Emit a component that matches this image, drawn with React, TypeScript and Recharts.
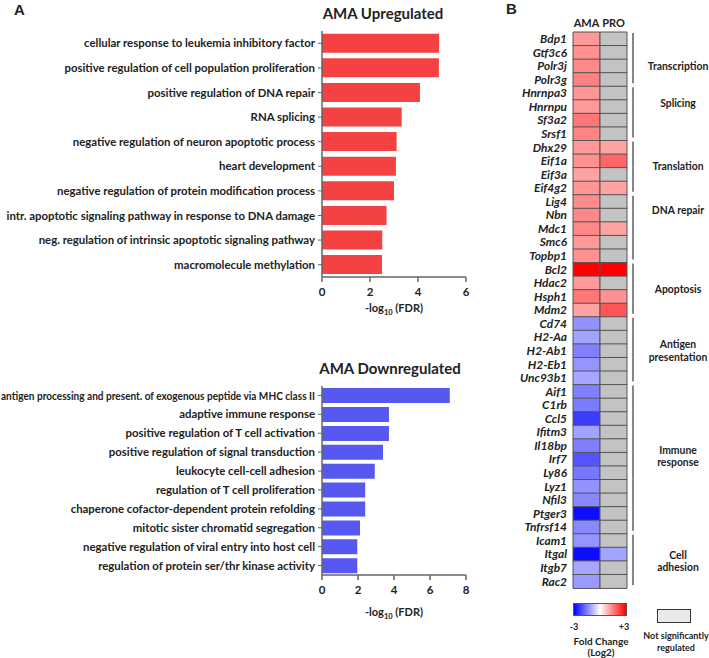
import React from 'react';
import { BarChart, Bar, XAxis, YAxis, Cell } from 'recharts';

// ---------- Panel A data ----------
const upTerms = [
  'cellular response to leukemia inhibitory factor',
  'positive regulation of cell population proliferation',
  'positive regulation of DNA repair',
  'RNA splicing',
  'negative regulation of neuron apoptotic process',
  'heart development',
  'negative regulation of protein modification process',
  'intr. apoptotic signaling pathway in response to DNA damage',
  'neg. regulation of intrinsic apoptotic signaling pathway',
  'macromolecule methylation',
];
const upValues = [4.88, 4.87, 4.08, 3.32, 3.11, 3.08, 3.0, 2.69, 2.51, 2.5];
const upTicks = [0, 2, 4, 6];

const downTerms = [
  'antigen processing and present. of exogenous peptide via MHC class II',
  'adaptive immune response',
  'positive regulation of T cell activation',
  'positive regulation of signal transduction',
  'leukocyte cell-cell adhesion',
  'regulation of T cell proliferation',
  'chaperone cofactor-dependent protein refolding',
  'mitotic sister chromatid segregation',
  'negative regulation of viral entry into host cell',
  'regulation of protein ser/thr kinase activity',
];
const downValues = [7.1, 3.72, 3.72, 3.39, 2.93, 2.4, 2.4, 2.11, 1.96, 1.96];
const downTicks = [0, 2, 4, 6, 8];

// ---------- Panel B data ----------
const columns = ['AMA', 'PRO'];
const genes = [
  'Bdp1', 'Gtf3c6', 'Polr3j', 'Polr3g',
  'Hnrnpa3', 'Hnrnpu', 'Sf3a2', 'Srsf1',
  'Dhx29', 'Eif1a', 'Eif3a', 'Eif4g2',
  'Lig4', 'Nbn', 'Mdc1', 'Smc6', 'Topbp1',
  'Bcl2', 'Hdac2', 'Hsph1', 'Mdm2',
  'Cd74', 'H2-Aa', 'H2-Ab1', 'H2-Eb1', 'Unc93b1',
  'Aif1', 'C1rb', 'Ccl5', 'Ifitm3', 'Il18bp', 'Irf7', 'Ly86', 'Lyz1', 'Nfil3', 'Ptger3', 'Tnfrsf14',
  'Icam1', 'Itgal', 'Itgb7', 'Rac2',
];
const amaFC = [
  1.2, 1.3, 1.4, 1.5,
  1.25, 1.2, 1.6, 1.45,
  1.2, 1.3, 1.1, 1.25,
  1.35, 1.4, 1.4, 1.2, 1.3,
  3.0, 1.2, 1.6, 1.1,
  -1.3, -1.1, -1.5, -1.25, -1.05,
  -1.5, -1.55, -2.3, -1.1, -1.5, -2.0, -1.6, -1.3, -1.4, -2.85, -1.4,
  -1.25, -2.85, -1.05, -1.2,
];
const proFC: (number | null)[] = [
  null, null, null, null,
  null, null, null, null,
  1.1, 1.8, null, 1.1,
  null, null, 1.1, null, null,
  3.0, null, 1.3, 2.0,
  null, null, null, null, null,
  null, null, null, null, null, null, null, null, null, null, null,
  null, -1.1, null, null,
];
const groups = [
  { lines: ['Transcription'], first: 'Bdp1', last: 'Polr3g', labelRow: 2.5 },
  { lines: ['Splicing'], first: 'Hnrnpa3', last: 'Srsf1', labelRow: 1.25 },
  { lines: ['Translation'], first: 'Dhx29', last: 'Eif4g2', labelRow: 1.9 },
  { lines: ['DNA repair'], first: 'Lig4', last: 'Topbp1', labelRow: 1.15 },
  { lines: ['Apoptosis'], first: 'Bcl2', last: 'Mdm2', labelRow: 2.0 },
  { lines: ['Antigen', 'presentation'], first: 'Cd74', last: 'Unc93b1', labelRow: 2.5 },
  { lines: ['Immune', 'response'], first: 'Aif1', last: 'Tnfrsf14', labelRow: 5.3 },
  { lines: ['Cell', 'adhesion'], first: 'Icam1', last: 'Rac2', labelRow: 2.05 },
];
const legendMin = '-3';
const legendMax = '+3';
const FC_LIMIT = 3;

const upData = upTerms.map((t, i) => ({ term: t, value: upValues[i] }));
const downData = downTerms.map((t, i) => ({ term: t, value: downValues[i] }));
const heatData = genes.map((g) => ({ gene: g, ama: 1, pro: 1 }));

const FONT = 'Lato, "Open Sans", sans-serif';
const TEXT = '#222';
const AXIS = '#666';
const NS_GRAY = '#c3c3c3';

function fcColor(v: number | null): string {
  if (v === null) return NS_GRAY;
  const t = Math.min(1, Math.abs(v) / FC_LIMIT);
  const c = Math.round(255 * (1 - t));
  return v >= 0 ? `rgb(255,${c},${c})` : `rgb(${c},${c},255)`;
}

const TermTick = (props: any) => {
  const { x, y, payload } = props;
  const long = String(payload.value).length > 60;
  return (
    <text
      x={x}
      y={y}
      dy="0.36em"
      textAnchor="end"
      fontSize={11.4}
      fontWeight={700}
      fill={TEXT}
      fontFamily={FONT}
      {...(long ? { textLength: x - 1, lengthAdjust: 'spacingAndGlyphs' } : {})}
    >
      {payload.value}
    </text>
  );
};

const NumTick = (props: any) => {
  const { x, y, payload } = props;
  return (
    <text x={x} y={y} dy="0.71em" textAnchor="middle" fontSize={11.5} fontWeight={700} fill={TEXT} fontFamily={FONT}>
      {payload.value}
    </text>
  );
};

const makeFdrLabel = (dy: number) => (props: any) => {
  const vb = props.viewBox || {};
  const cx = vb.x + vb.width / 2;
  const y = vb.y + dy;
  return (
    <text x={cx} y={y} dy="0.35em" textAnchor="middle" fontSize={11} fontWeight={700} fill={TEXT} fontFamily={FONT}>
      -log
      <tspan fontSize={7.5} dy="3">10</tspan>
      <tspan dy="-3"> (FDR)</tspan>
    </text>
  );
};

const TermChart = ({ data, ticks, color, width, height, top, bottom, gap, labelDy }: any) => (
  <BarChart
    width={width}
    height={height}
    data={data}
    layout="vertical"
    margin={{ top, right: 14, left: 0, bottom: 0 }}
    barCategoryGap={gap}
  >
    <XAxis
      type="number"
      domain={[ticks[0], ticks[ticks.length - 1]]}
      ticks={ticks}
      height={bottom}
      tick={<NumTick />}
      tickSize={5}
      tickMargin={6}
      axisLine={{ stroke: AXIS, strokeWidth: 1.5 }}
      tickLine={{ stroke: AXIS, strokeWidth: 1.5 }}
      label={{ content: makeFdrLabel(labelDy) }}
    />
    <YAxis
      type="category"
      dataKey="term"
      width={322}
      interval={0}
      tick={<TermTick />}
      tickSize={4}
      tickMargin={3}
      axisLine={{ stroke: AXIS, strokeWidth: 1.5 }}
      tickLine={{ stroke: AXIS, strokeWidth: 1 }}
    />
    <Bar dataKey="value" fill={color} isAnimationActive={false} />
  </BarChart>
);

const HEAT_TOP = 32;
const HEAT_BOTTOM_MARGIN = 12;
const HEAT_HEIGHT = 600;
const ROW = (HEAT_HEIGHT - HEAT_TOP - HEAT_BOTTOM_MARGIN) / genes.length;

const GeneTick = (props: any) => {
  const { x, y, payload } = props;
  const gene = payload.value as string;
  const idx = genes.indexOf(gene);
  const grp = groups.find((g) => genes.indexOf(g.first) <= idx && genes.indexOf(g.last) >= idx);
  const isFirst = grp && grp.first === gene;
  const isLast = grp && grp.last === gene;
  const lx = x + 66;
  const y1 = y - ROW / 2 + (isFirst ? 1 : 0);
  const y2 = y + ROW / 2 - (isLast ? 3 : 0);
  let label = null;
  if (grp && isFirst) {
    const cy = y - ROW / 2 + grp.labelRow * ROW;
    const n = grp.lines.length;
    label = (
      <text x={x + 111} y={cy} textAnchor="middle" fontSize={10.4} fontWeight={700} fill={TEXT} fontFamily={FONT}>
        {grp.lines.map((ln, i) => (
          <tspan key={i} x={x + 111} dy={i === 0 ? `${0.35 - ((n - 1) * 1.2) / 2}em` : '1.2em'}>
            {ln}
          </tspan>
        ))}
      </text>
    );
  }
  return (
    <g>
      <text x={x} y={y} dy="0.36em" textAnchor="end" fontSize={11.9} fontWeight={700} fontStyle="italic" fill={TEXT} fontFamily={FONT}>
        {gene}
      </text>
      {grp && <line x1={lx} x2={lx} y1={y1} y2={y2} stroke="#444" strokeWidth={1.3} />}
      {label}
    </g>
  );
};

const ColTick = (props: any) => {
  const { x, y, payload } = props;
  return (
    <text x={x} y={y} textAnchor="middle" fontSize={11} fontWeight={700} fill={TEXT} fontFamily={FONT}>
      {columns[payload.value < 1 ? 0 : 1]}
    </text>
  );
};

const Heatmap = () => (
  <BarChart
    width={229}
    height={HEAT_HEIGHT}
    data={heatData}
    layout="vertical"
    margin={{ top: 0, right: 82, left: 0, bottom: HEAT_BOTTOM_MARGIN }}
    barCategoryGap={0}
  >
    <XAxis
      type="number"
      orientation="top"
      domain={[0, 2]}
      ticks={[0.5, 1.5]}
      height={HEAT_TOP}
      axisLine={false}
      tickLine={false}
      tickSize={0}
      tickMargin={5}
      tick={<ColTick />}
    />
    <YAxis
      type="category"
      dataKey="gene"
      width={93}
      interval={0}
      axisLine={false}
      tickLine={false}
      tickSize={0}
      tickMargin={6}
      tick={<GeneTick />}
    />
    <Bar dataKey="ama" stackId="s" stroke="#555" strokeWidth={1} isAnimationActive={false}>
      {heatData.map((d, i) => (
        <Cell key={d.gene} fill={fcColor(amaFC[i])} />
      ))}
    </Bar>
    <Bar dataKey="pro" stackId="s" stroke="#555" strokeWidth={1} isAnimationActive={false}>
      {heatData.map((d, i) => (
        <Cell key={d.gene} fill={fcColor(proFC[i])} />
      ))}
    </Bar>
  </BarChart>
);

const abs = (left: number, top: number, extra: any = {}) => ({ position: 'absolute' as const, left, top, ...extra });

export default function App() {
  return (
    <div style={{ position: 'absolute', left: 0, top: 0, width: 709, height: 658, background: '#fff', fontFamily: FONT, color: TEXT, overflow: 'hidden' }}>
      <div style={abs(14, 1, { fontSize: 15, fontWeight: 700, fontFamily: 'Arial, "Liberation Sans", sans-serif' })}>A</div>
      <div style={abs(506, 0, { fontSize: 15, fontWeight: 700, fontFamily: 'Arial, "Liberation Sans", sans-serif' })}>B</div>

      <div style={abs(283, 4, { width: 200, textAlign: 'center', fontSize: 15, fontWeight: 700, lineHeight: '18px' })}>AMA Upregulated</div>
      <div style={abs(290, 359, { width: 200, textAlign: 'center', fontSize: 15, fontWeight: 700, lineHeight: '18px' })}>AMA Downregulated</div>

      <div style={abs(0, 0)}>
        <TermChart data={upData} ticks={upTicks} color="#f44141" width={480} height={322} top={31} bottom={45} gap="11%" labelDy={31} />
      </div>
      <div style={abs(0, 300)}>
        <TermChart data={downData} ticks={downTicks} color="#5757f2" width={480} height={320} top={86} bottom={45} gap="11%" labelDy={37} />
      </div>

      <div style={abs(480, 0)}>
        <Heatmap />
      </div>

      {/* colour legend */}
      <div style={abs(573, 603, { width: 54, height: 13, boxSizing: 'border-box', border: '1px solid #555', background: 'linear-gradient(to right, #0000ff, #ffffff, #ff0000)' })} />
      <div style={abs(566, 621, { width: 16, textAlign: 'center', fontSize: 9, fontWeight: 700 })}>{legendMin}</div>
      <div style={abs(616, 621, { width: 16, textAlign: 'center', fontSize: 9, fontWeight: 700 })}>{legendMax}</div>
      <div style={abs(561, 636, { width: 80, textAlign: 'center', fontSize: 10, fontWeight: 700, lineHeight: '11px' })}>
        Fold Change
        <br />
        (Log2)
      </div>
      <div style={abs(657, 609, { width: 34, height: 14, boxSizing: 'border-box', border: '1.5px solid #333', background: '#e9e9e9' })} />
      <div style={abs(640, 630, { width: 72, textAlign: 'center', fontSize: 9, fontWeight: 700, lineHeight: '12px' })}>
        Not significantly
        <br />
        regulated
      </div>
    </div>
  );
}
